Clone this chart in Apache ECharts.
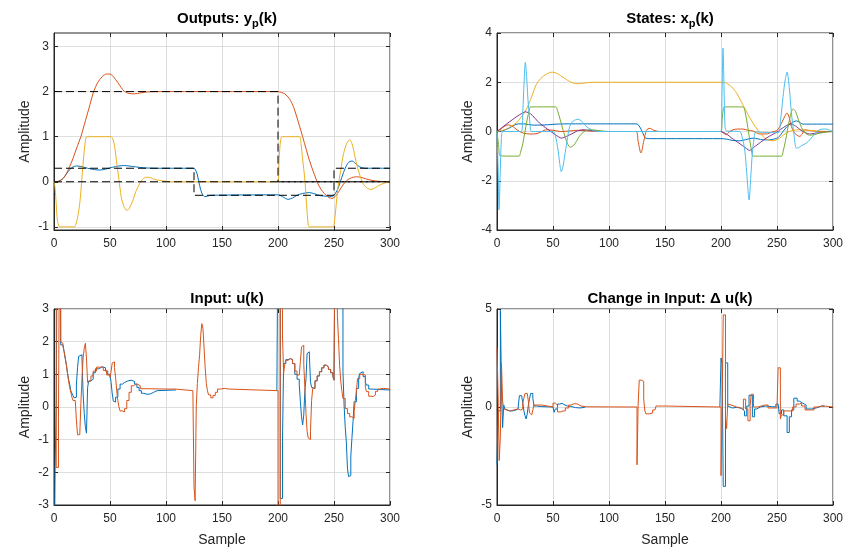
<!DOCTYPE html>
<html>
<head>
<meta charset="utf-8">
<script src="https://cdn.jsdelivr.net/npm/echarts@6/dist/echarts.min.js"></script>
<style>
html, body { margin: 0; padding: 0; background: #fff; }
#chart { width: 854px; height: 554px; }
</style>
</head>
<body>
<div id="chart"></div>
<script>
// ---- Outputs y_p(k) ----
var y1 = [[0,0],[4,0.01],[8,0.07],[11,0.17],[14,0.27],[17,0.33],[20,0.35],[24,0.34],[30,0.3],[36,0.27],[41,0.26],[46,0.28],[52,0.32],[58,0.35],[62,0.36],[67,0.35],[73,0.33],[80,0.31],[90,0.3],[124,0.3],[126,0.28],[128,0.15],[130,-0.08],[132,-0.25],[134.5,-0.33],[137,-0.32],[140,-0.3],[200,-0.29],[204,-0.33],[209,-0.39],[213,-0.36],[217,-0.3],[222,-0.26],[228,-0.24],[233,-0.27],[238,-0.31],[244,-0.32],[248,-0.33],[251,-0.27],[254,-0.12],[257,0.1],[260,0.3],[263,0.43],[266,0.46],[269,0.41],[273,0.33],[278,0.3],[300,0.3]];
var y2 = [[0,0],[5,0.02],[9,0.1],[13,0.28],[17,0.52],[21,0.8],[24,1.0],[28,1.35],[32,1.7],[35,1.97],[39,2.2],[43,2.33],[47,2.39],[50,2.39],[53,2.33],[57,2.2],[60,2.09],[63,2.0],[67,1.96],[72,1.95],[77,1.97],[82,1.99],[90,2.0],[200,2.0],[203,1.98],[206,1.95],[210,1.85],[214,1.65],[219.4,1.22],[222,1.0],[225.4,0.7],[228,0.48],[231,0.26],[234,0.06],[237,-0.11],[240,-0.22],[243,-0.3],[245.5,-0.35],[248,-0.37],[250,-0.35],[252,-0.3],[255,-0.19],[258,-0.07],[261,0.02],[264,0.07],[267,0.1],[270,0.11],[274,0.1],[279,0.06],[284,0.03],[290,0.01],[300,0]];
var y3 = [[0,0],[1,-0.15],[2,-0.5],[3,-0.85],[4.5,-0.99],[6,-1],[18,-1],[19.5,-0.95],[21,-0.8],[23,-0.48],[25,0.1],[26.5,0.55],[28,0.9],[29.5,1],[51,1],[52.5,0.95],[54,0.8],[55.7,0.48],[58,0.05],[60,-0.33],[62,-0.52],[64,-0.62],[65.5,-0.63],[67,-0.6],[70.5,-0.41],[73,-0.22],[76.5,-0.04],[79,0.05],[82,0.1],[85,0.1],[88,0.07],[92,0.04],[97,0.02],[105,0],[200,0],[201,0.5],[202.4,0.93],[204,1],[219,1],[220.5,0.85],[222,0.5],[224,0.04],[225.5,-0.5],[227,-0.96],[228,-1],[249,-1],[250.5,-0.85],[252,-0.5],[253.6,-0.11],[256,0.25],[258,0.56],[261,0.83],[264,0.93],[266,0.85],[268,0.65],[270,0.41],[273,0.15],[276,-0.04],[279,-0.13],[283,-0.17],[287,-0.13],[291,-0.07],[295,-0.03],[300,0]];
var r1 = [[0,0.3],[125,-0.3],[250,0.3],[300,0.3]];
var r2 = [[0,2],[200,0],[300,0]];
var r3 = [[0,0],[300,0]];
var yTicksOut = [-1, 0, 1, 2, 3];

// ---- States x_p(k) ----
var x1 = [[0,0],[5,0.03],[11,0.14],[15,0.25],[19,0.31],[24,0.31],[32,0.26],[40,0.26],[50,0.29],[60,0.31],[70,0.31],[124,0.31],[126,0.28],[128.9,0.07],[131,-0.15],[132.7,-0.27],[136,-0.29],[200,-0.29],[205,-0.31],[210,-0.36],[216.7,-0.38],[222,-0.33],[228.6,-0.27],[233,-0.3],[237.5,-0.34],[243,-0.34],[248,-0.3],[251,-0.25],[255.4,0],[259,0.2],[262.9,0.34],[267.3,0.43],[270,0.38],[273.2,0.3],[300,0.3]];
var x2 = [[0,0],[4,0.12],[7,0.22],[9.8,0.27],[12,0.25],[14.3,0.2],[17,0.1],[20.2,0],[24,-0.07],[29.2,-0.1],[33,-0.1],[36.6,-0.07],[40,0],[44,0.07],[50,0.05],[57,0],[64.9,0.02],[72,0.05],[79.8,0.03],[90,0],[124,0],[126,-0.4],[128.5,-0.87],[131,-0.4],[133.5,0.05],[136.5,0.13],[140,0.05],[145,0],[200,0],[202,-0.06],[204.8,-0.13],[207,-0.03],[210.7,0.07],[215,0.1],[219.6,0.1],[224,0.05],[228.6,0.02],[234.5,-0.1],[240.5,-0.1],[245,-0.03],[249.4,0.03],[252.5,0.2],[255.4,0.47],[259,0.75],[261,0.55],[262.9,0.2],[265,-0.02],[267.3,-0.13],[270.2,-0.2],[272.5,-0.1],[274.7,0.07],[278,0.05],[280.6,0.03],[290,0],[300,0]];
var x3 = [[0,0],[4,0.04],[8.3,0.1],[12,0.2],[17,0.34],[21,0.55],[26,0.88],[30,1.3],[35,1.9],[39,2.15],[44,2.33],[49.4,2.41],[54,2.35],[59,2.2],[64.9,2.03],[68,1.97],[72,1.94],[77,1.96],[85.7,2.0],[200,2.0],[202,2.0],[206,1.93],[210.7,1.76],[215,1.48],[219.6,1.08],[224,0.7],[228.6,0.34],[233,0.05],[237.5,-0.2],[241,-0.32],[246.4,-0.38],[250,-0.33],[252.4,-0.27],[256,-0.13],[261,0],[265,0.05],[270,0.07],[275,0.06],[279,0.04],[290,0.01],[300,0]];
var x4 = [[0,0],[25.6,0.8],[30,0.72],[38,0.34],[45,0.1],[52,-0.13],[57.4,-0.27],[62,-0.2],[67.9,-0.07],[72,0.03],[76.8,0.07],[85.7,0.03],[95,0],[200,0],[204.8,-0.1],[210,-0.28],[215,-0.44],[220,-0.6],[225.6,-0.77],[230,-0.62],[240,-0.28],[250,-0.02],[256,0.17],[261.3,0.31],[264,0.29],[267.3,0.2],[270,0.1],[273.2,0],[276,-0.06],[279,-0.1],[283,-0.08],[288,-0.04],[295,-0.01],[300,0]];
var x5 = [[0,0],[1.5,-0.6],[3,-0.99],[19.6,-1],[21,-0.85],[23,-0.5],[24.7,-0.07],[27,0.5],[29,0.9],[30,1],[52.4,1],[54,0.85],[56,0.55],[58.9,0.07],[61,-0.25],[63,-0.5],[65.5,-0.64],[68,-0.58],[70.8,-0.41],[73.5,-0.2],[76.8,-0.04],[79.5,0.04],[82.7,0.07],[87,0.06],[91.7,0.03],[100,0],[200,0],[201,0.5],[202,0.9],[203,1],[219.6,1],[221.5,0.8],[223.5,0.3],[225.5,-0.3],[227.5,-0.85],[228.6,-1],[253.9,-1],[255.5,-0.8],[257.5,-0.4],[259.5,0.1],[261.5,0.55],[263,0.82],[264.5,0.91],[266.5,0.82],[269,0.5],[272,0.15],[275,-0.05],[279,-0.15],[283,-0.13],[288,-0.07],[294,-0.02],[300,0]];
var x6 = [[0,0],[1,-1.6],[1.8,-3.18],[2.8,-1.8],[3.9,-0.34],[5.4,0],[21.7,0],[23,0.8],[24.2,2.0],[25.3,2.8],[26.5,2.2],[27.5,1.4],[28.6,0.75],[29.6,0.25],[30.7,0],[50,0],[52,-0.15],[54.5,-0.75],[56,-1.3],[57.4,-1.63],[58.8,-1.45],[60.4,-1.0],[62.5,-0.4],[64.9,0.2],[68,0.42],[72.3,0.5],[76,0.4],[79.8,0.2],[84,0.08],[88.7,0],[200,0],[200.9,1.5],[201.8,3.39],[202.7,1.8],[203.6,0.2],[205,0.02],[216.7,0],[219,-0.25],[221.2,-0.75],[223,-1.7],[225.1,-2.78],[226.5,-1.9],[228,-0.88],[229.5,-0.3],[231,0],[235,-0.03],[250.9,-0.05],[253,0.4],[255.4,1.42],[257.3,2.1],[259,2.41],[260.9,1.8],[262.9,0.75],[265,-0.05],[267.3,-0.68],[269.5,-0.65],[271.8,-0.58],[276.3,-0.47],[279,-0.35],[282.2,-0.18],[285,-0.03],[288,0.07],[291,0.1],[294,0.1],[297,0.05],[300,0]];

// ---- Input u(k) (stairs) ----
var u1 = [[0,-6],[1,-1.9],[2,0.25],[3,6],[6,1.9],[8,1.85],[9,1.7],[10,1.5],[11,1.3],[12,1.05],[13,0.85],[14,0.7],[15,0.5],[16,0.42],[17,0.35],[18,0.28],[19,0.3],[20,0.7],[21,1.2],[22,1.55],[23,1.6],[25,1.5],[26,0.4],[27,-0.2],[28,-0.6],[29,-0.8],[30,0.6],[31,0.8],[33,0.85],[35,1.05],[37,1.17],[40,1.23],[43,1.2],[46,1.1],[48,1.0],[50,0.95],[51,0.75],[52,0.4],[53,0.18],[54,0.15],[55,0.3],[57,0.55],[59,0.7],[61,0.75],[63,0.8],[66,0.82],[69,0.78],[72,0.7],[74,0.6],[76,0.5],[78,0.42],[80,0.39],[83,0.4],[86,0.45],[89,0.5],[92,0.52],[108,0.52],[109,null],
  [199,0.5],[200,6],[202,-2.8],[204,-1.05],[205,1.33],[207,1.45],[209,1.48],[211,1.45],[213,1.33],[215,1.0],[217,0.85],[219,0.67],[220,0.16],[221,-0.3],[222,-0.55],[223,-0.24],[224,0.5],[225,0.87],[226,1.64],[227,1.69],[228,1.59],[229,0.77],[230,0.6],[231,0.57],[233,0.8],[235,0.95],[237,1.08],[239,1.2],[241,1.28],[243,1.23],[245,1.15],[247,1.05],[249,0.93],[250,0.82],[251,6],[258,1.08],[259,0.06],[260,-0.6],[261,-1.06],[262,-1.87],[263,-2.13],[264,-2.1],[265,-1.5],[266,-0.96],[267,-0.45],[268,0.16],[270,0.57],[272,0.9],[273,1.03],[274,1.08],[276,0.93],[278,0.75],[279,0.67],[281,0.55],[283,0.52],[300,0.52]];
var u2 = [[0,6],[2,-1.85],[4,-0.33],[5,6],[6,2.0],[7,1.95],[8,1.85],[9,1.7],[10,1.5],[11,1.3],[12,1.05],[13,0.8],[14,0.6],[15,0.45],[16,0.3],[17,0.2],[19,0.15],[20,-0.4],[21,-0.85],[23,-0.8],[24,0.1],[25,0.9],[26,1.5],[27,1.8],[28,1.95],[29,1.5],[30,0.75],[31,0.8],[33,0.95],[35,1.1],[38,1.22],[41,1.22],[44,1.12],[47,0.98],[50,0.9],[51,1.1],[52,1.35],[53,1.38],[54,1.2],[55,0.9],[56,0.5],[57,0.2],[58,0.0],[59,-0.12],[61,-0.15],[63,-0.05],[65,0.2],[67,0.45],[69,0.65],[71,0.71],[74,0.65],[77,0.56],[82,0.55],[100,0.55],[108,0.5],[124,0.5],[125,-2.45],[126,-2.87],[127,0.0],[128,0.72],[129,1.2],[130,1.6],[131,2.2],[132,2.55],[133,2.4],[134,1.8],[135,1.2],[136,0.72],[137,0.5],[138,0.37],[140,0.28],[142,0.35],[144,0.45],[146,0.55],[149,0.57],[152,0.55],[156,0.5],
  [200,-6],[202,6],[204,2.2],[205,1.03],[206,1.3],[207,1.43],[209,1.48],[211,1.45],[213,1.33],[215,1.1],[217,0.98],[219,0.93],[220,1.4],[221,1.84],[222,1.89],[223,1.3],[224,0.6],[225,-0.2],[226,-0.75],[227,-0.95],[228,-1.0],[229,-0.75],[230,0.2],[231,0.57],[233,0.8],[235,0.95],[237,1.08],[239,1.2],[241,1.28],[243,1.23],[245,1.15],[247,1.05],[249,0.93],[250,0.82],[251,6],[253,2.8],[254,2.1],[255,1.28],[256,0.8],[257,0.5],[258,0.26],[260,-0.05],[262,-0.2],[264,-0.3],[266,-0.35],[268,-0.14],[269,0.2],[270,0.47],[271,0.87],[273,1.0],[275,1.03],[276,0.98],[278,0.6],[279,0.47],[281,0.33],[283,0.32],[285,0.37],[287,0.48],[289,0.55],[291,0.57],[294,0.55],[300,0.52]];

// ---- Change in input du(k) (stairs) ----
var du1 = [[0,-2.95],[1,-0.2],[3,4.93],[4,1.0],[5,-1.05],[6,0.1],[7,-0.1],[8,-0.2],[11,-0.2],[14,-0.15],[17,-0.1],[19,0.05],[20,0.58],[22,0.58],[23,0.2],[24,-0.2],[25,-0.45],[26,-0.61],[27,-0.35],[28,0.1],[29,0.4],[30,0.69],[32,0.45],[33,0.05],[35,0.02],[40,0],[50,-0.05],[51,-0.27],[52,-0.1],[54,0.15],[56,0.19],[58,0.12],[60,0.05],[63,0.03],[66,-0.03],[70,-0.05],[74,-0.02],[78,0],[79,null],
  [199,0],[200,2.5],[201,2.2],[202,-4.05],[204,2.25],[206,0.05],[207,-0.05],[210,-0.02],[214,-0.05],[217,-0.1],[219,-0.2],[221,-0.45],[223,0.05],[225,0.6],[228,-0.5],[230,-0.1],[232,0],[235,0.05],[240,0.02],[245,0],[249,0.15],[251,0.1],[252,-0.35],[254,-0.15],[256,-0.45],[259,-1.3],[261,-0.5],[263,-0.15],[265,0.45],[268,0.3],[270,0.2],[273,0.1],[276,-0.1],[281,-0.05],[285,0.05],[290,0.05],[292,0]];
var du2 = [[0,3.03],[1,0.5],[2,-2.73],[3,-1.5],[4,2.22],[5,0.3],[6,-0.1],[7,-0.15],[9,-0.2],[12,-0.15],[15,-0.12],[17,-0.1],[19,-0.05],[20,-0.15],[21,-0.2],[22,-0.1],[23,0.2],[24,0.45],[25,0.69],[27,0.69],[28,0.3],[29,-0.3],[30,-0.4],[31,-0.4],[32,-0.15],[33,0.1],[36,0.1],[40,0.05],[45,0],[50,0.2],[52,0.1],[54,-0.25],[57,-0.2],[59,-0.2],[61,-0.05],[64,0.1],[66,0.17],[69,0.15],[72,0.05],[75,0.01],[80,0],[125,-2.95],[126,0.1],[127,1.37],[129,1.3],[131,0.4],[132,-0.2],[133,-0.35],[136,-0.4],[137,-0.3],[139,-0.15],[141,-0.05],[142,0.05],[148,0.05],[150,0],
  [200,-3.5],[201,0],[202,4.7],[204,-0.5],[205,-1.1],[206,0.15],[207,0.1],[209,0],[214,-0.05],[218,-0.15],[220,0.4],[222,-0.1],[224,-0.7],[226,0.1],[227,0.65],[229,0],[233,0.1],[239,0.1],[242,-0.05],[248,-0.05],[250,0],[251,2.0],[253,-0.6],[254,-0.4],[256,-0.2],[262,-0.2],[264,0],[267,0.15],[270,0.2],[272,0.05],[275,-0.15],[280,-0.15],[283,0],[286,0.05],[290,0.05],[292,0],[300,0]];

var C = ['#0072BD', '#D95319', '#EDB120', '#7E2F8E', '#77AC30', '#4DBEEE'];
var FONT = 'Liberation Sans, Arial, Helvetica, sans-serif';
var INK = '#262626';

var grids = [
    { left: 54, top: 33, width: 336, height: 197 },
    { left: 497, top: 33, width: 336, height: 197 },
    { left: 54, top: 309, width: 336, height: 196 },
    { left: 497, top: 309, width: 336, height: 196 }
].map(function (g) {
    g.show = true; g.borderColor = INK; g.borderWidth = 1; g.backgroundColor = '#fff';
    return g;
});

function xAx(i, name) {
    return {
        type: 'value', gridIndex: i, min: 0, max: 300, interval: 50,
        axisLine: { onZero: false, lineStyle: { color: INK } },
        axisTick: { inside: true, length: 4, lineStyle: { color: INK } },
        axisLabel: { color: INK, fontSize: 12, margin: 8, fontFamily: FONT },
        splitLine: { show: true, lineStyle: { color: '#dedede' } },
        name: name || '', nameLocation: 'middle', nameGap: 28,
        nameTextStyle: { color: INK, fontSize: 14, fontFamily: FONT }
    };
}
function yAx(i, min, max, interval, ticks) {
    var a = {
        type: 'value', gridIndex: i, min: min, max: max, interval: interval,
        axisLine: { onZero: false, lineStyle: { color: INK } },
        axisTick: { inside: true, length: 4, lineStyle: { color: INK } },
        axisLabel: { color: INK, fontSize: 12, margin: 5, fontFamily: FONT },
        splitLine: { show: true, lineStyle: { color: '#dedede' } },
        name: 'Amplitude', nameLocation: 'middle', nameGap: 22,
        nameTextStyle: { color: INK, fontSize: 14, fontFamily: FONT }
    };
    if (ticks) {
        delete a.interval;
        a.axisLabel.customValues = ticks;
        a.axisTick.customValues = ticks;
    }
    return a;
}
// tick-only axes on the top and right of each box
function boxAx(base, pos) {
    var a = JSON.parse(JSON.stringify(base));
    a.position = pos;
    a.name = '';
    a.axisLabel.show = false;
    a.splitLine = { show: false };
    a.axisLine = { show: false, onZero: false };
    return a;
}

function line(i, data, color, extra) {
    var s = {
        type: 'line', xAxisIndex: i, yAxisIndex: i, data: data,
        showSymbol: false, symbol: 'none', animation: false,
        lineStyle: { color: color, width: 1 }, itemStyle: { color: color }
    };
    for (var k in extra) s[k] = extra[k];
    return s;
}
var sm = { smooth: 0.3 };
var st = { step: 'end' };
var dash = { step: 'end', lineStyle: { color: '#000', width: 1, type: [8, 4] } };

var rich = {
    b: { fontSize: 15, fontWeight: 'bold', color: '#000', fontFamily: FONT, verticalAlign: 'top', lineHeight: 18 },
    s: { fontSize: 11, fontWeight: 'bold', color: '#000', fontFamily: FONT, verticalAlign: 'top', lineHeight: 18, padding: [7, 0, 0, 0] }
};
function ttl(text, x, y) {
    return { text: text, left: x, top: y, textAlign: 'center', textStyle: { rich: rich } };
}

var xs = [xAx(0), xAx(1), xAx(2, 'Sample'), xAx(3, 'Sample')];
var ys = [
    yAx(0, -1.07, 3.3, null, yTicksOut),
    yAx(1, -4, 4, 2),
    yAx(2, -3, 3, 1),
    yAx(3, -5, 5, 5)
];

var option = {
    backgroundColor: '#fff',
    animation: false,
    title: [
        ttl('{b|Outputs: y}{s|p}{b|(k)}', 222, 6),
        ttl('{b|States: x}{s|p}{b|(k)}', 665, 6),
        ttl('{b|Input: u(k)}', 222, 286),
        ttl('{b|Change in Input: \u0394 u(k)}', 665, 286)
    ],
    grid: grids,
    xAxis: xs.concat(xs.map(function (a) { return boxAx(a, 'top'); })),
    yAxis: ys.concat(ys.map(function (a) { return boxAx(a, 'right'); })),
    series: [
        line(0, y1, C[0], sm),
        line(0, y2, C[1], sm),
        line(0, y3, C[2], sm),
        line(0, r1, '#000', dash),
        line(0, r2, '#000', dash),
        line(0, r3, '#000', dash),

        line(1, x1, C[0], sm),
        line(1, x2, C[1], sm),
        line(1, x3, C[2], sm),
        line(1, x4, C[3], { smooth: 0.15 }),
        line(1, x5, C[4], sm),
        line(1, x6, C[5], sm),

        line(2, u1, C[0], st),
        line(2, u2, C[1], st),

        line(3, du1, C[0], st),
        line(3, du2, C[1], st)
    ]
};

var chart = echarts.init(document.getElementById('chart'));
chart.setOption(option);
window.addEventListener('resize', function () { chart.resize(); });
</script>
</body>
</html>
